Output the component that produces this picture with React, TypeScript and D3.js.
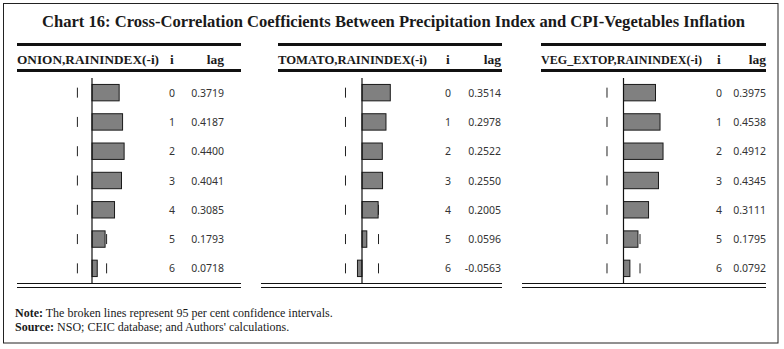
import React from "react";
import * as d3 from "d3";

const lags = [0, 1, 2, 3, 4, 5, 6];
const onionValues = [0.3719, 0.4187, 0.44, 0.4041, 0.3085, 0.1793, 0.0718];
const tomatoValues = [0.3514, 0.2978, 0.2522, 0.255, 0.2005, 0.0596, -0.0563];
const vegValues = [0.3975, 0.4538, 0.4912, 0.4345, 0.3111, 0.1795, 0.0792];
const onionLabels = ["0.3719", "0.4187", "0.4400", "0.4041", "0.3085", "0.1793", "0.0718"];
const tomatoLabels = ["0.3514", "0.2978", "0.2522", "0.2550", "0.2005", "0.0596", "-0.0563"];
const vegLabels = ["0.3975", "0.4538", "0.4912", "0.4345", "0.3111", "0.1795", "0.0792"];
const panelTitles = ["ONION,RAININDEX(-i)", "TOMATO,RAININDEX(-i)", "VEG_EXTOP,RAININDEX(-i)"];
const confBounds = [0.2, 0.205, 0.205];
const chartTitle = "Chart 16: Cross-Correlation Coefficients Between Precipitation Index and CPI-Vegetables Inflation";

const W = 784;
const H = 349;
const SERIF = "'Liberation Serif', 'DejaVu Serif', serif";
const SANS = "'Noto Sans', 'Open Sans', sans-serif";

// layout per panel
const panels = [
  { values: onionValues, labels: onionLabels, title: panelTitles[0], titleW: 142, conf: confBounds[0], left: 17, right: 241, botLeft: 17, axis: 92, half: 73, iX: 172, lagR: 224 },
  { values: tomatoValues, labels: tomatoLabels, title: panelTitles[1], titleW: 149, conf: confBounds[1], left: 278, right: 502, botLeft: 261, axis: 362, half: 80.5, iX: 448, lagR: 501 },
  { values: vegValues, labels: vegLabels, title: panelTitles[2], titleW: 161, conf: confBounds[2], left: 541, right: 766, botLeft: 522, axis: 623.5, half: 80.5, iX: 719, lagR: 766 },
];

const y = d3.scaleBand<number>().domain(lags).range([78, 283]).paddingInner(0.44).paddingOuter(0.22);

function Panel({ p }: { p: typeof panels[number] }) {
  const x = d3.scaleLinear().domain([-1, 1]).range([p.axis - p.half, p.axis + p.half]);
  const bw = y.bandwidth();
  return (
    <g>
      <line x1={p.left} x2={p.right} y1={44.5} y2={44.5} stroke="#111" strokeWidth={3} />
      <text x={p.left} y={64} fontFamily={SERIF} fontWeight="bold" fontSize={12.5} fill="#1a1a1a" textLength={p.titleW} lengthAdjust="spacingAndGlyphs">{p.title}</text>
      <text x={p.iX} y={64} fontFamily={SERIF} fontWeight="bold" fontSize={13.5} fill="#1a1a1a" textAnchor="middle">i</text>
      <text x={p.lagR} y={64} fontFamily={SERIF} fontWeight="bold" fontSize={13.5} fill="#1a1a1a" textAnchor="end">lag</text>
      <line x1={p.left} x2={p.right} y1={70.5} y2={70.5} stroke="#111" strokeWidth={3} />
      {lags.map((l, k) => {
        const cy = (y(l) as number) + bw / 2;
        const v = p.values[k];
        const x0 = x(Math.min(0, v));
        const x1 = x(Math.max(0, v));
        return (
          <g key={l}>
            <line x1={x(-p.conf)} x2={x(-p.conf)} y1={cy - 5} y2={cy + 5} stroke="#222" strokeWidth={1} />
            <line x1={x(p.conf)} x2={x(p.conf)} y1={cy - 5} y2={cy + 5} stroke="#222" strokeWidth={1} />
            <rect x={x0} y={y(l) as number} width={x1 - x0} height={bw} fill="#808080" stroke="#1a1a1a" strokeWidth={1} />
            <text x={p.iX} y={cy + 4} fontFamily={SANS} fontSize={10.5} fill="#333" textAnchor="middle">{l}</text>
            <text x={p.lagR} y={cy + 4} fontFamily={SANS} fontSize={10.5} fill="#333" textAnchor="end">{p.labels[k]}</text>
          </g>
        );
      })}
      <line x1={x(0)} x2={x(0)} y1={78} y2={284} stroke="#111" strokeWidth={1.2} />
      <line x1={p.botLeft} x2={p.right} y1={283.5} y2={283.5} stroke="#111" strokeWidth={1} />
      <line x1={p.botLeft} x2={p.right} y1={287.5} y2={287.5} stroke="#111" strokeWidth={1} />
    </g>
  );
}

export default function App() {
  return (
    <svg width={W} height={H} style={{ position: "absolute", left: 0, top: 0, background: "#fff" }}>
      <rect x={0} y={0} width={W} height={H} fill="#fff" />
      <rect x={3.5} y={3.5} width={774.5} height={339.5} fill="none" stroke="#222" strokeWidth={1} />
      <text x={393.5} y={27} textAnchor="middle" fontFamily={SERIF} fontWeight="bold" fontSize={16.5} fill="#1a1a1a" textLength={703} lengthAdjust="spacingAndGlyphs">{chartTitle}</text>
      {panels.map((p, i) => <Panel key={i} p={p} />)}
      <text x={15} y={317} fontFamily={SERIF} fontSize={12} fill="#1a1a1a">
        <tspan fontWeight="bold">Note:</tspan> The broken lines represent 95 per cent confidence intervals.
      </text>
      <text x={15} y={331} fontFamily={SERIF} fontSize={12} fill="#1a1a1a">
        <tspan fontWeight="bold">Source:</tspan> NSO; CEIC database; and Authors' calculations.
      </text>
    </svg>
  );
}
